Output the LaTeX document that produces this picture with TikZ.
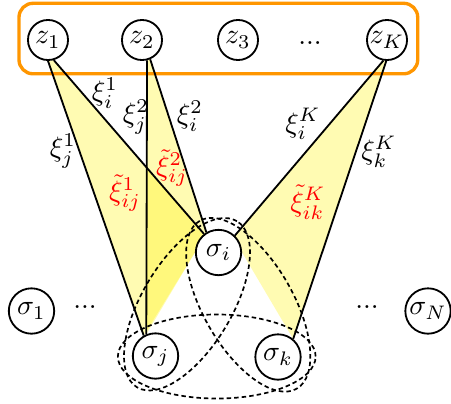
\documentclass[tikz,border=0pt]{standalone}
\usetikzlibrary{backgrounds,calc}
\definecolor{boxorange}{RGB}{255,150,0}
\begin{document}
\begin{tikzpicture}[x=0.357pt,y=-0.357pt,
  zvar/.style={circle,draw,line width=0.65pt,fill=white,minimum size=14.3pt,inner sep=0pt},
  svar/.style={circle,draw,line width=0.65pt,fill=white,minimum size=16.2pt,inner sep=0pt},
  dotsnode/.style={inner sep=0pt},
  link/.style={line width=0.65pt},
  wedge/.style={fill=yellow,fill opacity=0.3},
  lab/.style={inner sep=0pt},
  tlab/.style={inner sep=0pt,text=red},
  group/.style={dash pattern=on 1.6pt off 1.1pt,line width=0.6pt},
  selbox/.style={draw=boxorange,line width=1.2pt,rounded corners=5pt}]
\useasboundingbox (0,0) rectangle (451,403);

% top row
\node[zvar] (z1) at (48,40) {$z_1$};
\node[zvar] (z2) at (142,40) {$z_2$};
\node[zvar] (z3) at (238,40) {$z_3$};
\node[dotsnode] (zd) at (310,43) {...};
\node[zvar] (zK) at (387,40) {$z_K$};
\draw[selbox] (19,3.3) rectangle (417.7,73.8);

% bottom row
\node[svar] (s1) at (31.5,311) {$\sigma_1$};
\node[dotsnode] (sd1) at (85,307) {...};
\node[svar] (si) at (218.5,252.5) {$\sigma_i$};
\node[svar] (sj) at (155.5,356) {$\sigma_j$};
\node[svar] (sk) at (278,357) {$\sigma_k$};
\node[dotsnode] (sd2) at (367,307) {...};
\node[svar] (sN) at (428,311) {$\sigma_N$};

% wedges
\begin{scope}[on background layer]
\fill[wedge] (z1.-74) -- (si.128) -- (si.180) -- (sj.120) -- (z1.-90) -- cycle;
\fill[wedge] (z2.-67) -- (si.121) -- (si.180) -- (sj.113) -- (z2.-76) -- cycle;
\fill[wedge] (zK.-100) -- (si.46) -- (si.0) -- (sk.50) -- (zK.-92) -- cycle;
\end{scope}

% links
\draw[link] (z1.-74) -- (si.128);
\draw[link] (z1.-90) -- (sj.120);
\draw[link] (z2.-76) -- (sj.113);
\draw[link] (z2.-67) -- (si.121);
\draw[link] (zK.-100) -- (si.46);
\draw[link] (zK.-92) -- (sk.50);

% groups
\coordinate (cij) at ($(si)!0.5!(sj)$);
\coordinate (cik) at ($(si)!0.5!(sk)$);
\coordinate (cjk) at ($(sj)!0.5!(sk)$);
\draw[group,rotate around={59:(cij)}] (cij) ellipse [x radius=34.6pt,y radius=16pt];
\draw[group,rotate around={120:(cik)}] (cik) ellipse [x radius=34.6pt,y radius=16pt];
\draw[group] (cjk) ellipse [x radius=35.3pt,y radius=15pt];

% labels
\node[lab] (l1i) at (105,93) {$\xi_i^1$};
\node[lab] (l1j) at (63,151) {$\xi_j^1$};
\node[lab] (l2j) at (136,117) {$\xi_j^2$};
\node[lab] (l2i) at (190,116) {$\xi_i^2$};
\node[lab] (lKi) at (303,124) {$\xi_i^K$};
\node[lab] (lKk) at (379,152) {$\xi_k^K$};
\node[tlab] (t1) at (125,193) {$\tilde{\xi}_{ij}^1$};
\node[tlab] (t2) at (172,168) {$\tilde{\xi}_{ij}^2$};
\node[tlab] (tK) at (308,202) {$\tilde{\xi}_{ik}^K$};
\end{tikzpicture}
\end{document}
